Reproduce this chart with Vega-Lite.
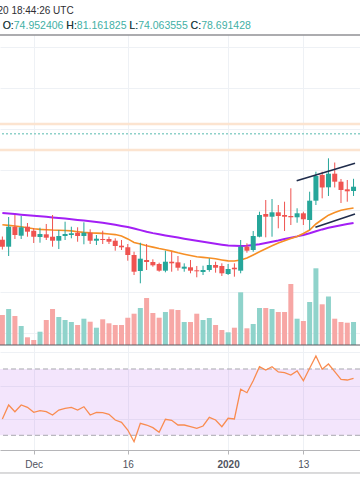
{
  "$schema": "https://vega.github.io/schema/vega-lite/v6.json",
  "width": 360,
  "height": 415,
  "autosize": {"type": "none"},
  "padding": {"left": 0, "top": 35, "right": 0, "bottom": 54},
  "background": "white",
  "config": {"view": {"stroke": null}, "font": "Liberation Sans", "axis": {"labelFont": "Liberation Sans", "titleFont": "Liberation Sans"}},
  "datasets": {
    "ohlc": [
      {"date": "2019-11-26", "open": 62.8, "high": 63.6, "low": 60.4, "close": 61.1, "volume": 300, "ma_fast": 66.49, "ma_slow": 69.34, "rsi": 39.83},
      {"date": "2019-11-27", "open": 61.10, "high": 68.38, "low": 58.82, "close": 66.00, "volume": 360, "ma_fast": 66.32, "ma_slow": 69.21, "rsi": 48.28},
      {"date": "2019-11-28", "open": 66.00, "high": 68.87, "low": 62.99, "close": 63.97, "volume": 290, "ma_fast": 66.18, "ma_slow": 69.09, "rsi": 44.24},
      {"date": "2019-11-29", "open": 63.80, "high": 68.63, "low": 62.99, "close": 65.86, "volume": 190, "ma_fast": 66.00, "ma_slow": 68.96, "rsi": 48.28},
      {"date": "2019-11-30", "open": 66.00, "high": 66.91, "low": 63.55, "close": 64.78, "volume": 77, "ma_fast": 65.76, "ma_slow": 68.82, "rsi": 46.89},
      {"date": "2019-12-01", "open": 65.02, "high": 65.68, "low": 62.01, "close": 63.55, "volume": 50, "ma_fast": 65.51, "ma_slow": 68.70, "rsi": 43.88},
      {"date": "2019-12-02", "open": 63.48, "high": 65.76, "low": 62.08, "close": 64.21, "volume": 133, "ma_fast": 65.34, "ma_slow": 68.58, "rsi": 44.84},
      {"date": "2019-12-03", "open": 64.14, "high": 66.67, "low": 62.74, "close": 63.31, "volume": 250, "ma_fast": 65.27, "ma_slow": 68.43, "rsi": 44.24},
      {"date": "2019-12-04", "open": 63.55, "high": 68.87, "low": 61.10, "close": 62.57, "volume": 360, "ma_fast": 65.19, "ma_slow": 68.28, "rsi": 42.25},
      {"date": "2019-12-05", "open": 62.57, "high": 65.19, "low": 60.53, "close": 63.72, "volume": 280, "ma_fast": 65.15, "ma_slow": 68.14, "rsi": 45.26},
      {"date": "2019-12-06", "open": 63.72, "high": 67.23, "low": 62.74, "close": 64.21, "volume": 250, "ma_fast": 65.07, "ma_slow": 67.99, "rsi": 46.29},
      {"date": "2019-12-07", "open": 63.97, "high": 66.00, "low": 63.16, "close": 64.39, "volume": 230, "ma_fast": 64.97, "ma_slow": 67.84, "rsi": 46.89},
      {"date": "2019-12-08", "open": 64.53, "high": 65.86, "low": 62.32, "close": 63.72, "volume": 200, "ma_fast": 64.78, "ma_slow": 67.67, "rsi": 45.26},
      {"date": "2019-12-09", "open": 63.72, "high": 67.08, "low": 61.69, "close": 64.53, "volume": 263, "ma_fast": 64.61, "ma_slow": 67.50, "rsi": 47.25},
      {"date": "2019-12-10", "open": 64.53, "high": 65.36, "low": 61.76, "close": 62.57, "volume": 233, "ma_fast": 64.48, "ma_slow": 67.33, "rsi": 42.25},
      {"date": "2019-12-11", "open": 62.57, "high": 63.97, "low": 61.52, "close": 63.06, "volume": 173, "ma_fast": 64.43, "ma_slow": 67.16, "rsi": 43.88},
      {"date": "2019-12-12", "open": 62.99, "high": 65.02, "low": 61.76, "close": 62.74, "volume": 257, "ma_fast": 64.36, "ma_slow": 66.96, "rsi": 43.64},
      {"date": "2019-12-13", "open": 62.99, "high": 63.55, "low": 61.76, "close": 62.32, "volume": 217, "ma_fast": 64.21, "ma_slow": 66.71, "rsi": 42.67},
      {"date": "2019-12-14", "open": 62.57, "high": 63.16, "low": 60.12, "close": 61.27, "volume": 200, "ma_fast": 64.07, "ma_slow": 66.47, "rsi": 39.23},
      {"date": "2019-12-15", "open": 61.35, "high": 62.74, "low": 60.29, "close": 60.95, "volume": 200, "ma_fast": 63.72, "ma_slow": 66.20, "rsi": 37.84},
      {"date": "2019-12-16", "open": 60.95, "high": 61.76, "low": 57.67, "close": 59.07, "volume": 273, "ma_fast": 63.01, "ma_slow": 65.93, "rsi": 33.20},
      {"date": "2019-12-17", "open": 59.07, "high": 59.87, "low": 54.16, "close": 54.97, "volume": 313, "ma_fast": 62.13, "ma_slow": 65.54, "rsi": 26.14},
      {"date": "2019-12-18", "open": 55.14, "high": 62.08, "low": 52.13, "close": 58.16, "volume": 370, "ma_fast": 61.74, "ma_slow": 65.17, "rsi": 37.24},
      {"date": "2019-12-19", "open": 57.84, "high": 61.76, "low": 55.39, "close": 57.35, "volume": 470, "ma_fast": 61.35, "ma_slow": 64.78, "rsi": 36.21},
      {"date": "2019-12-20", "open": 57.35, "high": 58.01, "low": 56.20, "close": 56.54, "volume": 320, "ma_fast": 61.00, "ma_slow": 64.43, "rsi": 34.59},
      {"date": "2019-12-21", "open": 56.86, "high": 57.18, "low": 54.97, "close": 55.22, "volume": 273, "ma_fast": 60.66, "ma_slow": 64.16, "rsi": 31.81},
      {"date": "2019-12-22", "open": 55.22, "high": 60.12, "low": 54.82, "close": 57.42, "volume": 330, "ma_fast": 60.37, "ma_slow": 63.87, "rsi": 39.65},
      {"date": "2019-12-23", "open": 57.42, "high": 59.87, "low": 54.97, "close": 57.03, "volume": 357, "ma_fast": 60.02, "ma_slow": 63.60, "rsi": 39.05},
      {"date": "2019-12-24", "open": 57.27, "high": 58.82, "low": 55.22, "close": 55.95, "volume": 350, "ma_fast": 59.60, "ma_slow": 63.33, "rsi": 36.21},
      {"date": "2019-12-25", "open": 55.71, "high": 57.03, "low": 54.97, "close": 56.20, "volume": 230, "ma_fast": 59.26, "ma_slow": 63.06, "rsi": 36.21},
      {"date": "2019-12-26", "open": 56.05, "high": 57.84, "low": 54.58, "close": 55.22, "volume": 230, "ma_fast": 58.94, "ma_slow": 62.82, "rsi": 35.19},
      {"date": "2019-12-27", "open": 55.31, "high": 56.37, "low": 53.60, "close": 55.07, "volume": 313, "ma_fast": 58.65, "ma_slow": 62.55, "rsi": 34.22},
      {"date": "2019-12-28", "open": 54.90, "high": 56.44, "low": 54.16, "close": 55.39, "volume": 250, "ma_fast": 58.48, "ma_slow": 62.30, "rsi": 35.61},
      {"date": "2019-12-29", "open": 55.39, "high": 58.26, "low": 54.97, "close": 56.61, "volume": 270, "ma_fast": 58.33, "ma_slow": 62.06, "rsi": 40.86},
      {"date": "2019-12-30", "open": 56.61, "high": 57.42, "low": 54.73, "close": 55.95, "volume": 200, "ma_fast": 58.13, "ma_slow": 61.81, "rsi": 39.23},
      {"date": "2019-12-31", "open": 56.37, "high": 57.03, "low": 53.92, "close": 54.58, "volume": 150, "ma_fast": 57.86, "ma_slow": 61.59, "rsi": 35.19},
      {"date": "2020-01-01", "open": 54.41, "high": 56.86, "low": 54.16, "close": 55.63, "volume": 127, "ma_fast": 57.62, "ma_slow": 61.37, "rsi": 40.26},
      {"date": "2020-01-02", "open": 55.95, "high": 57.03, "low": 53.75, "close": 55.56, "volume": 173, "ma_fast": 57.59, "ma_slow": 61.32, "rsi": 39.83},
      {"date": "2020-01-03", "open": 55.22, "high": 62.74, "low": 54.58, "close": 61.10, "volume": 527, "ma_fast": 57.84, "ma_slow": 61.30, "rsi": 57.75},
      {"date": "2020-01-04", "open": 61.10, "high": 61.93, "low": 59.63, "close": 60.12, "volume": 167, "ma_fast": 58.33, "ma_slow": 61.32, "rsi": 55.70},
      {"date": "2020-01-05", "open": 60.29, "high": 64.95, "low": 59.87, "close": 63.72, "volume": 210, "ma_fast": 59.07, "ma_slow": 61.52, "rsi": 62.94},
      {"date": "2020-01-06", "open": 63.55, "high": 69.68, "low": 63.40, "close": 68.87, "volume": 370, "ma_fast": 59.85, "ma_slow": 61.71, "rsi": 71.39},
      {"date": "2020-01-07", "open": 69.12, "high": 72.55, "low": 63.40, "close": 68.45, "volume": 370, "ma_fast": 60.59, "ma_slow": 62.01, "rsi": 69.40},
      {"date": "2020-01-08", "open": 68.45, "high": 72.79, "low": 63.55, "close": 69.53, "volume": 360, "ma_fast": 61.32, "ma_slow": 62.30, "rsi": 71.39},
      {"date": "2020-01-09", "open": 69.53, "high": 71.32, "low": 65.61, "close": 68.63, "volume": 330, "ma_fast": 62.03, "ma_slow": 62.62, "rsi": 68.19},
      {"date": "2020-01-10", "open": 68.87, "high": 72.13, "low": 64.95, "close": 68.45, "volume": 330, "ma_fast": 62.57, "ma_slow": 62.99, "rsi": 67.77},
      {"date": "2020-01-11", "open": 68.63, "high": 75.42, "low": 66.42, "close": 68.31, "volume": 610, "ma_fast": 63.09, "ma_slow": 63.31, "rsi": 66.38},
      {"date": "2020-01-12", "open": 68.31, "high": 70.52, "low": 66.98, "close": 69.29, "volume": 263, "ma_fast": 63.60, "ma_slow": 63.63, "rsi": 68.79},
      {"date": "2020-01-13", "open": 69.29, "high": 69.68, "low": 66.42, "close": 67.82, "volume": 240, "ma_fast": 64.34, "ma_slow": 63.99, "rsi": 62.94},
      {"date": "2020-01-14", "open": 67.65, "high": 74.58, "low": 65.19, "close": 72.38, "volume": 430, "ma_fast": 65.19, "ma_slow": 64.39, "rsi": 70.42},
      {"date": "2020-01-15", "open": 72.38, "high": 79.49, "low": 71.32, "close": 78.43, "volume": 767, "ma_fast": 66.67, "ma_slow": 64.88, "rsi": 77.84},
      {"date": "2020-01-16", "open": 78.68, "high": 79.49, "low": 72.96, "close": 75.62, "volume": 407, "ma_fast": 67.77, "ma_slow": 65.34, "rsi": 69.82},
      {"date": "2020-01-17", "open": 75.66, "high": 82.77, "low": 73.53, "close": 79.00, "volume": 485, "ma_fast": 68.82, "ma_slow": 65.73, "rsi": 73.02},
      {"date": "2020-01-18", "open": 79.00, "high": 81.74, "low": 75.62, "close": 77.04, "volume": 263, "ma_fast": 69.48, "ma_slow": 66.05, "rsi": 68.37},
      {"date": "2020-01-19", "open": 77.04, "high": 77.70, "low": 71.81, "close": 75.00, "volume": 230, "ma_fast": 70.02, "ma_slow": 66.37, "rsi": 63.79},
      {"date": "2020-01-20", "open": 75.17, "high": 77.45, "low": 72.13, "close": 74.68, "volume": 223, "ma_fast": 70.34, "ma_slow": 66.64, "rsi": 63.36},
      {"date": "2020-01-21", "open": 74.76, "high": 77.75, "low": 73.53, "close": 75.81, "volume": 230, "ma_fast": 70.59, "ma_slow": 66.91, "rsi": 64.39}
    ],
    "trend": [
      {"name": "upper", "date": "2020-01-11T22:20:00Z", "price": 77.28},
      {"name": "upper", "date": "2020-01-21T05:35:00Z", "price": 81.54},
      {"name": "lower", "date": "2020-01-14T22:05:00Z", "price": 65.86},
      {"name": "lower", "date": "2020-01-21T05:35:00Z", "price": 69.12}
    ]
  },
  "data": {"name": "ohlc"},
  "layer": [
    {
      "layer": [
        {
          "data": {"values": [{}]},
          "mark": {"type": "rect", "color": "#af52eb", "opacity": 0.15},
          "encoding": {
            "y": {"datum": 70, "type": "quantitative",
              "scale": {"domain": [21.13, 271.51], "zero": false, "nice": false},
              "axis": {"orient": "left", "values": [40, 60, 80], "grid": true, "gridColor": "#eef1f5", "gridWidth": 1,
                "labels": false, "ticks": false, "domain": false,
                "title": "O:74.952406 H:81.161825 L:74.063555 C:78.691428",
                "titleX": 2.2, "titleY": -7, "titleAngle": 0, "titleAlign": "left", "titleBaseline": "alphabetic",
                "titleFontSize": 10.5, "titleFontWeight": "normal", "titleColor": "#3fb0a5", "zindex": 0}},
            "y2": {"datum": 30}
          }
        },
        {
          "data": {"values": [{}]},
          "mark": {"type": "rule", "color": "#a8a8b0", "strokeDash": [5, 3], "strokeWidth": 1},
          "encoding": {"y": {"datum": 70, "type": "quantitative"}}
        },
        {
          "data": {"values": [{}]},
          "mark": {"type": "rule", "color": "#a8a8b0", "strokeDash": [5, 3], "strokeWidth": 1},
          "encoding": {"y": {"datum": 30, "type": "quantitative"}}
        },
        {
          "mark": {"type": "line", "color": "#f98c50", "strokeWidth": 1.3, "clip": true},
          "encoding": {
            "x": {"field": "date", "type": "temporal", "title": null,
              "scale": {"type": "utc", "domain": [{"year": 2019, "month": 11, "date": 26, "hours": 10, "minutes": 3, "utc": true}, {"year": 2020, "month": 1, "date": 21, "hours": 5, "minutes": 35, "utc": true}]},
              "axis": {
                "values": [{"year": 2019, "month": 12, "date": 1, "utc": true}, {"year": 2019, "month": 12, "date": 16, "utc": true}, {"year": 2020, "month": 1, "date": 1, "utc": true}, {"year": 2020, "month": 1, "date": 13, "utc": true}],
                "title": null, "grid": true, "gridColor": "#eef1f5", "gridWidth": 1,
                "domainColor": "#b5b5b8", "domainWidth": 1, "tickColor": "#b5b5b8", "tickSize": 4,
                "labelExpr": "utcdate(datum.value) == 1 ? (utcmonth(datum.value) == 0 ? utcFormat(datum.value, '%Y') : utcFormat(datum.value, '%b')) : utcFormat(datum.value, '%-d')",
                "labelFontSize": 10, "labelColor": "#50535e", "labelBaseline": "alphabetic", "labelPadding": 13.5,
                "labelFontWeight": {"condition": {"test": "utcmonth(datum.value) == 0 && utcdate(datum.value) == 1", "value": "bold"}, "value": "normal"},
                "labelFlush": false, "labelOverlap": false
              }},
            "y": {"field": "rsi", "type": "quantitative"}
          }
        },
        {
          "data": {"values": [{}]},
          "mark": {"type": "rule", "color": "#b5b5b8", "strokeWidth": 1},
          "encoding": {"y": {"datum": 7.26, "type": "quantitative"}}
        }
      ]
    },
    {
      "layer": [
        {
          "mark": {"type": "bar", "size": 5, "clip": true},
          "encoding": {
            "x": {"field": "date", "type": "temporal", "title": null},
            "y": {"field": "volume", "type": "quantitative",
              "scale": {"domain": [-1050, 3100], "zero": false, "nice": false},
              "axis": {"orient": "left", "labels": false, "ticks": false, "domain": false, "grid": false,
                "title": "O:\u00a0\u00a0\u00a0\u00a0\u00a0\u00a0\u00a0\u00a0\u00a0\u00a0\u00a0\u00a0\u00a0\u00a0\u00a0\u00a0\u00a0\u00a0H:\u00a0\u00a0\u00a0\u00a0\u00a0\u00a0\u00a0\u00a0\u00a0\u00a0\u00a0\u00a0\u00a0\u00a0\u00a0\u00a0\u00a0\u00a0L:\u00a0\u00a0\u00a0\u00a0\u00a0\u00a0\u00a0\u00a0\u00a0\u00a0\u00a0\u00a0\u00a0\u00a0\u00a0\u00a0\u00a0\u00a0C:",
                "titleX": 2.2, "titleY": -7, "titleAngle": 0, "titleAlign": "left", "titleBaseline": "alphabetic",
                "titleFontSize": 10.5, "titleFontWeight": "normal", "titleColor": "#2e2e33", "zindex": 1}},
            "y2": {"datum": 0},
            "color": {"condition": {"test": "datum.close >= datum.open", "value": "#8fd3cb"}, "value": "#f7a7a5"}
          }
        },
        {
          "data": {"values": [{}]},
          "mark": {"type": "rule", "color": "#5a5a60", "strokeWidth": 1},
          "encoding": {"y": {"datum": 0, "type": "quantitative"}}
        }
      ]
    },
    {
      "layer": [
        {
          "data": {"values": [{"level": 91.18}, {"level": 84.81}]},
          "mark": {"type": "rule", "color": "#fce4d0", "strokeWidth": 2.5},
          "encoding": {
            "y": {"field": "level", "type": "quantitative",
              "scale": {"domain": [11.26, 113], "zero": false, "nice": false},
              "axis": {"orient": "left", "values": [40, 50, 60, 70, 80, 90, 100, 110], "grid": true, "gridColor": "#eef1f5", "gridWidth": 1,
                "labels": false, "ticks": false, "domain": false,
                "title": "20 18:44:26 UTC",
                "titleX": -3, "titleY": -21.7, "titleAngle": 0, "titleAlign": "left", "titleBaseline": "alphabetic",
                "titleFontSize": 10, "titleFontWeight": "normal", "titleColor": "#2e2e33", "zindex": 0}}
          }
        },
        {
          "data": {"values": [{"level": 88.80}]},
          "mark": {"type": "rule", "color": "#8fd1c9", "strokeWidth": 1.5, "strokeDash": [2, 2]},
          "encoding": {"y": {"field": "level", "type": "quantitative"}}
        },
        {
          "mark": {"type": "line", "color": "#a31ff5", "strokeWidth": 2, "clip": true},
          "encoding": {
            "x": {"field": "date", "type": "temporal", "title": null},
            "y": {"field": "ma_slow", "type": "quantitative"}
          }
        },
        {
          "mark": {"type": "line", "color": "#f68f25", "strokeWidth": 1.6, "clip": true},
          "encoding": {
            "x": {"field": "date", "type": "temporal", "title": null},
            "y": {"field": "ma_fast", "type": "quantitative"}
          }
        },
        {
          "mark": {"type": "rule", "strokeWidth": 1, "clip": true},
          "encoding": {
            "x": {"field": "date", "type": "temporal", "title": null},
            "y": {"field": "low", "type": "quantitative"},
            "y2": {"field": "high"},
            "color": {"condition": {"test": "datum.close >= datum.open", "value": "#26a69a"}, "value": "#ef5350"}
          }
        },
        {
          "mark": {"type": "bar", "size": 5, "clip": true},
          "encoding": {
            "x": {"field": "date", "type": "temporal", "title": null},
            "y": {"field": "open", "type": "quantitative"},
            "y2": {"field": "close"},
            "color": {"condition": {"test": "datum.close >= datum.open", "value": "#26a69a"}, "value": "#ef5350"}
          }
        },
        {
          "data": {"name": "trend"},
          "mark": {"type": "line", "color": "#1f2c4b", "strokeWidth": 1.6, "clip": true},
          "encoding": {
            "x": {"field": "date", "type": "temporal", "title": null},
            "y": {"field": "price", "type": "quantitative"},
            "detail": {"field": "name"}
          }
        },
        {
          "data": {"values": [{}]},
          "mark": {"type": "rule", "color": "#5a5a60", "strokeWidth": 1.2},
          "encoding": {"y": {"datum": 113, "type": "quantitative"}}
        }
      ]
    }
  ],
  "resolve": {"scale": {"y": "independent"}, "axis": {"y": "independent"}}
}
